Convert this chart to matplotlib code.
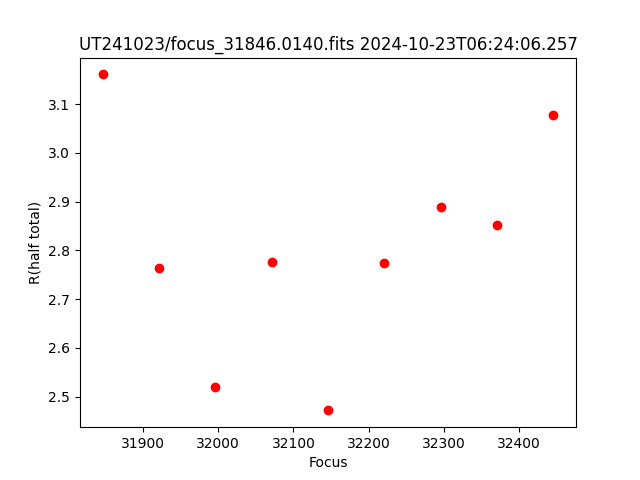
import matplotlib
matplotlib.use("Agg")
import matplotlib.pyplot as plt

# Focus positions and measured half-total radius
focus = [31846, 31921, 31996, 32071, 32146, 32221, 32296, 32371, 32446]
r_half = [3.161, 2.765, 2.519, 2.777, 2.472, 2.775, 2.890, 2.853, 3.077]

title = "UT241023/focus_31846.0140.fits 2024-10-23T06:24:06.257"

fig, ax = plt.subplots(figsize=(6.4, 4.8), dpi=100)
ax.plot(focus, r_half, "ro")
ax.set_xlabel("Focus")
ax.set_ylabel("R(half total)")
ax.set_title(title)
fig.savefig("out.png")
